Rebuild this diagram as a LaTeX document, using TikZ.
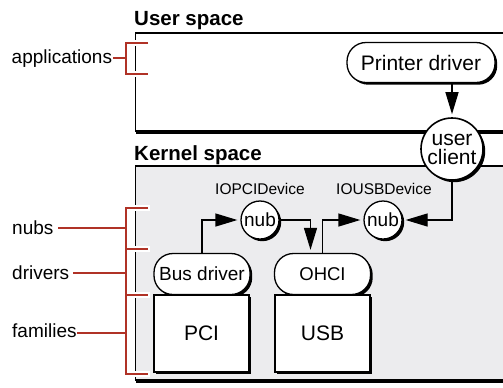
\documentclass[tikz,border=0pt]{standalone}
\usepackage{fontspec}
\setmainfont{Liberation Sans}
\usetikzlibrary{arrows.meta,shadows}

\definecolor{bracketred}{RGB}{176,50,38}
\definecolor{kernelgray}{RGB}{236,236,238}

\tikzset{
  shade box/.style={drop shadow={shadow xshift=2.2bp,shadow yshift=-2.2bp,fill=black,opacity=1}},
  pill/.style={draw, line width=1.3bp, fill=white, rounded corners=19bp,
    minimum height=40bp, inner sep=0pt, shade box},
  famblock/.style={draw, line width=1.3bp, fill=white, inner sep=0pt,
    minimum width=95bp, minimum height=77bp, shade box},
  nubnode/.style={circle, draw, line width=1.3bp, fill=white, minimum size=38bp,
    inner sep=0pt, shade box},
  link/.style={line width=1.3bp, -{Triangle[length=22bp,width=13bp]}, shorten >=3bp},
  brk/.style={bracketred, line width=1.4bp},
  halo/.style={white, line width=6bp},
  sidelabel/.style={anchor=base west, inner sep=0pt, font=\fontsize{19bp}{21bp}\selectfont},
  spacetitle/.style={anchor=base west, inner sep=0pt, font=\bfseries\fontsize{20.5bp}{22bp}\selectfont},
}

\begin{document}
\begin{tikzpicture}[x=1bp, y=-1bp]
\useasboundingbox (0,0) rectangle (503,387);
\clip (0,0) rectangle (503,387);

% user and kernel areas (open to the right)
\draw[line width=1.5bp, fill=white,
  drop shadow={shadow xshift=0bp,shadow yshift=-3bp,fill=black,opacity=1}]
  (135.5,33) rectangle (540,131);
\draw[line width=1.5bp, fill=kernelgray,
  drop shadow={shadow xshift=0bp,shadow yshift=-3bp,fill=black,opacity=1}]
  (135.5,166) rectangle (540,380);

\node[spacetitle] (usertitle) at (134,25) {User space};
\node[spacetitle] (kerneltitle) at (134,160) {Kernel space};

% drivers and families
\node[pill, minimum width=148bp, font=\fontsize{21bp}{21bp}\selectfont] (printer) at (421,62.5) {Printer driver};
\node[nubnode, minimum size=62bp, line width=1.6bp, align=center,
  font=\fontsize{21bp}{19bp}\selectfont] (client) at (452,149) {user\\client};

\node[font=\fontsize{15.5bp}{17bp}\selectfont] (pcilabel) at (260,189) {IOPCIDevice};
\node[font=\fontsize{15.5bp}{17bp}\selectfont] (usblabel) at (384,189) {IOUSBDevice};
\node[nubnode, font=\fontsize{19bp}{19bp}\selectfont] (nubpci) at (260,220) {nub};
\node[nubnode, font=\fontsize{19bp}{19bp}\selectfont] (nubusb) at (383,220) {nub};

\node[pill, minimum width=96bp, minimum height=41bp, font=\fontsize{19bp}{19bp}\selectfont] (busdrv) at (202,274) {Bus driver};
\node[pill, minimum width=96bp, minimum height=41bp, font=\fontsize{18.5bp}{19bp}\selectfont] (ohci) at (322.5,274) {OHCI};
\node[famblock, font=\fontsize{21bp}{21bp}\selectfont] (pci) at (201.5,333.5) {PCI};
\node[famblock, font=\fontsize{21bp}{21bp}\selectfont] (usb) at (322.5,333.5) {USB};

% connectors
\draw[link] (printer.south -| client.north) -- (client.north);
\draw[link] (client.south) |- (nubusb.east);
\draw[link] (busdrv.north) |- (nubpci.west);
\draw[link] (nubpci.east) -| ([xshift=-12bp]ohci.north);
\draw[link] (ohci.north) |- (nubusb.west);

% layer brackets
\foreach \yy in {43,74,208,249,295,374}
  \draw[halo] (128,\yy) -- (150,\yy);

\draw[brk] (148,43) -- (126,43) -- (126,74) -- (148,74);
\draw[brk] (113,58) -- (126,58);
\draw[brk] (148,208) -- (126,208) -- (126,374) -- (148,374);
\draw[brk, line width=2.8bp] (126,249) -- (148,249);
\draw[brk] (126,295) -- (148,295);
\draw[brk] (58,228) -- (126,228);
\draw[brk] (73,273) -- (126,273);
\draw[brk] (77,333) -- (126,333);

\node[sidelabel] (lapps) at (11.5,63) {applications};
\node[sidelabel] (lnubs) at (12,234) {nubs};
\node[sidelabel] (ldrivers) at (12,279) {drivers};
\node[sidelabel] (lfamilies) at (12,337) {families};
\end{tikzpicture}
\end{document}
